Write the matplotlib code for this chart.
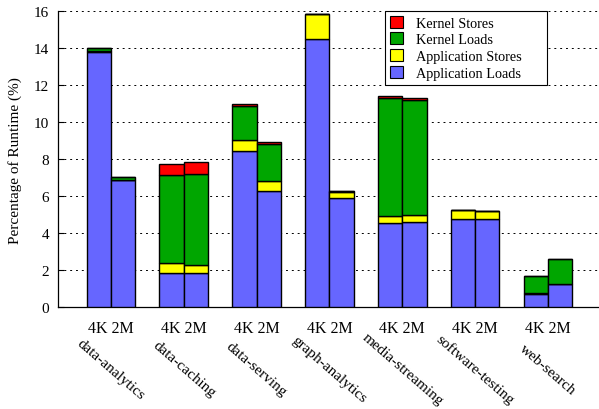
import matplotlib
matplotlib.use("Agg")
import matplotlib.pyplot as plt
from matplotlib.patches import Patch
from matplotlib.transforms import blended_transform_factory
import numpy as np

categories = ['data-analytics', 'data-caching', 'data-serving', 'graph-analytics',
              'media-streaming', 'software-testing', 'web-search']
page_sizes = ['4K', '2M']

# values per category: [4K, 2M]
app_loads = [[13.82, 6.87], [1.84, 1.84], [8.43, 6.30], [14.49, 5.91],
             [4.57, 4.61], [4.76, 4.76], [0.74, 1.26]]
app_stores = [[0.02, 0.01], [0.57, 0.45], [0.63, 0.54], [1.36, 0.31],
              [0.37, 0.36], [0.50, 0.43], [0.05, 0.02]]
kernel_loads = [[0.18, 0.17], [4.72, 4.92], [1.84, 1.97], [0.01, 0.05],
                [6.39, 6.24], [0.02, 0.04], [0.90, 1.31]]
kernel_stores = [[0.01, 0.01], [0.60, 0.66], [0.11, 0.14], [0.0, 0.0],
                 [0.11, 0.12], [0.0, 0.0], [0.0, 0.03]]

series_names = ['Application Loads', 'Application Stores', 'Kernel Loads', 'Kernel Stores']
colors = ['#6666ff', '#ffff00', '#00a600', '#ff0000']

plt.rcParams['font.family'] = ['Liberation Serif', 'DejaVu Serif']
plt.rcParams['font.size'] = 11

fig = plt.figure(figsize=(5.99, 4.10), dpi=100)
ax = fig.add_axes([57.7 / 599, 1 - 308.3 / 410, 1 - 57.7 / 599, (308.3 - 12.3) / 410])

series = [app_loads, app_stores, kernel_loads, kernel_stores]
n = len(categories)
for j in range(2):
    x = np.arange(n) * 3 + j
    bottom = np.zeros(n)
    for s, c in zip(series, colors):
        vals = np.array([v[j] for v in s])
        ax.bar(x, vals, width=1.0, bottom=bottom, color=c, edgecolor='black',
               linewidth=1.0, zorder=3)
        bottom += vals

ax.set_xlim(-1.69, 20.6)
ax.set_ylim(0, 16)
ax.set_yticks(np.arange(0, 17, 2))
ax.yaxis.grid(True, linestyle=(0, (2, 4)), color='black', linewidth=0.7)
ax.set_axisbelow(True)
ax.tick_params(axis='y', direction='in', length=4, width=0.8, labelsize=11, pad=6)
centers = np.arange(n) * 3 + 0.5
ax.set_xticks(centers)
ax.set_xticklabels([' '.join(page_sizes)] * n)
ax.tick_params(axis='x', length=0, labelsize=11.5, pad=9)
for sp in ['top', 'right']:
    ax.spines[sp].set_visible(False)
ax.spines['left'].set_linewidth(0.9)
ax.spines['bottom'].set_linewidth(0.9)

ax.set_ylabel('Percentage of Runtime (%)', fontsize=11)
ax.yaxis.set_label_coords((22 - 57.7) / 541.3, 0.5)

trans = blended_transform_factory(ax.transData, ax.transAxes)
for cx, name in zip(centers, categories):
    ax.text(cx, -0.208, name, transform=trans, rotation=-41, ha='center', va='center',
            fontsize=11)

handles = [Patch(facecolor=c, edgecolor='black', linewidth=0.8) for c in colors[::-1]]
lw_ = (546.7 - 385) / 599
lh_ = 73.3 / 410
leg = ax.legend(handles, series_names[::-1], loc='upper left', mode='expand',
                bbox_to_anchor=(385 / 599, 1 - 11.7 / 410 - lh_, lw_, lh_),
                bbox_transform=fig.transFigure,
                fancybox=False, framealpha=1, edgecolor='black', fontsize=10.3,
                handlelength=0.9, handleheight=0.9, borderpad=0.35, labelspacing=0.2,
                handletextpad=0.9, borderaxespad=0)
leg.get_frame().set_linewidth(0.8)

fig.savefig('out.png', dpi=100)
